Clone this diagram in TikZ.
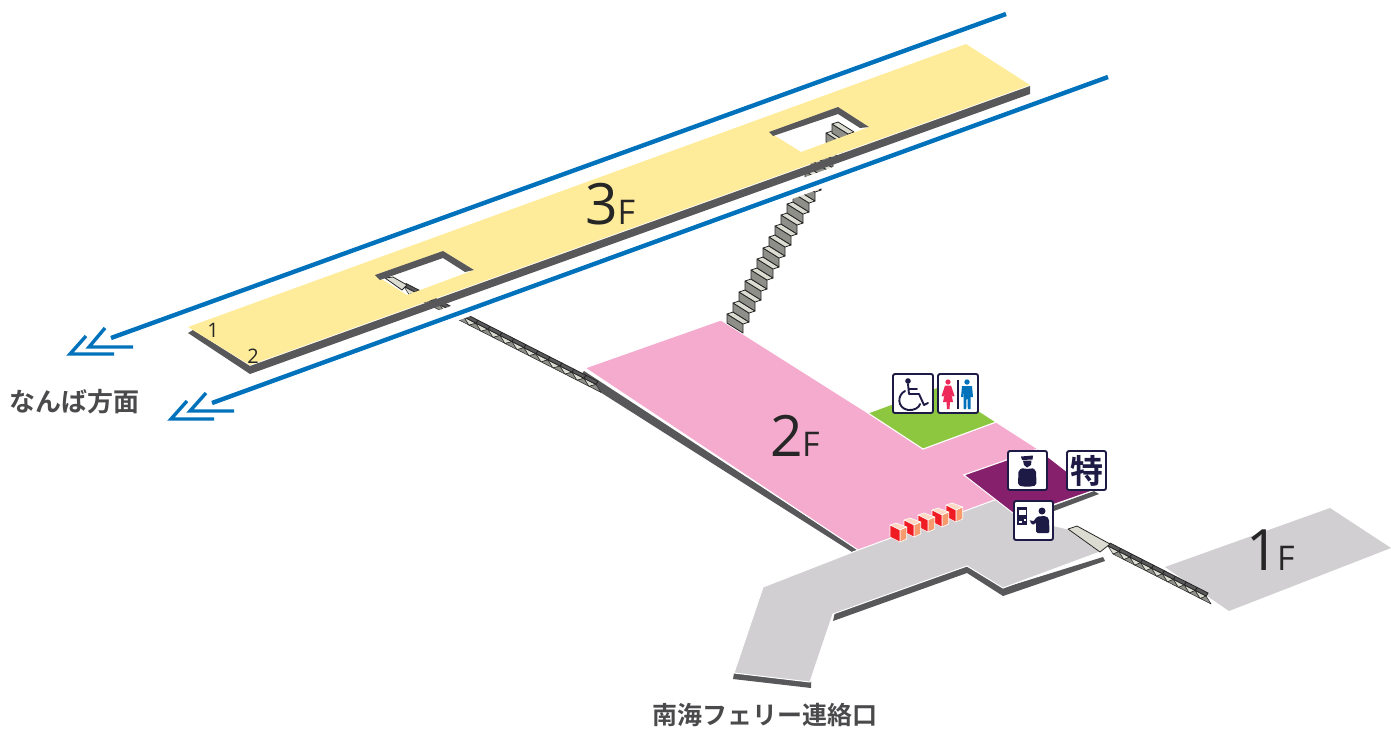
\documentclass[tikz,border=0pt]{standalone}
\usepackage{fontspec}
\setmainfont{Open Sans}
\newfontfamily\cjk{Noto Sans CJK JP Bold}
\newfontfamily\cjkplain{Noto Sans CJK JP Bold}
\definecolor{yel}{HTML}{FEEC9A}
\definecolor{pnk}{HTML}{F5ABCE}
\definecolor{grn}{HTML}{8DC63F}
\definecolor{pur}{HTML}{86206C}
\definecolor{gry}{HTML}{D1CFD1}
\definecolor{drk}{HTML}{58585A}
\definecolor{blu}{HTML}{0072BC}
\definecolor{nav}{HTML}{1D1A45}
\definecolor{riser}{HTML}{8F8F89}
\definecolor{tread}{HTML}{DCDCD2}
\definecolor{txtg}{HTML}{4A4A4C}
\definecolor{gred}{HTML}{F01C24}
\definecolor{gsal}{HTML}{F79A6E}
\definecolor{gtop}{HTML}{FCD9C4}
\definecolor{wred}{HTML}{EE2A5B}
\tikzset{
  rail/.style={draw=blu,line width=4.4pt},
  chev/.style={draw=blu,line width=3.4pt,line join=miter},
  halo/.style={draw=white,line width=16pt},
  floorw/.style={draw=white,line width=1pt,line join=miter},
  band/.style={fill=drk},
  stairline/.style={draw=black!85,line width=.8pt,line join=round},
  iconbox/.style={draw=nav,fill=white,line width=1.9pt,rounded corners=2pt},
  big/.style={font=\fontsize{57}{57}\selectfont,text=black!85,anchor=base west,inner sep=0pt},
  sml/.style={font=\fontsize{34}{34}\selectfont,text=black!85,anchor=base west,inner sep=0pt},
  plat/.style={font=\fontsize{20}{20}\selectfont,text=black!85,anchor=base,inner sep=0pt},
  lbl/.style={text=txtg,anchor=west,inner sep=0pt},
  gatew/.style={draw=white,line width=.6pt,line join=round}
}
\newcommand{\shallow}[4]{% x y n step
  \foreach \i in {0,...,#3}{
    \begin{scope}[shift={({#1+#4*\i},{#2+#4*0.51*\i})}]
      \filldraw[stairline,line width=.5pt,fill=tread] (-2,3)--(#4-2,#4*.51+3)--(3,11)--cycle;
      \filldraw[stairline,line width=.5pt,fill=riser] (#4-2,#4*.51+3)--(3,11)--(3+#4,11+#4*.51)--cycle;
      \filldraw[stairline,fill=drk] (0,0)--(#4,#4*.51)--(#4-2,#4*.51+3)--(-2,3)--cycle;
    \end{scope}
  }
}
\newcommand{\bigstep}[2]{%
  \begin{scope}[shift={(#1,#2)}]
    \filldraw[stairline,fill=riser] (0,0)--(0,-9)--(16,1)--(16,10)--cycle;
    \filldraw[stairline,fill=tread] (0,-9)--(6,-11)--(22,-1)--(16,1)--cycle;
  \end{scope}
}
\begin{document}
\begin{tikzpicture}[x=1pt,y=-1pt]
\useasboundingbox (0,0) rectangle (1391,729);
% 1F floor
\fill[gry] (1165,567)--(1330,508)--(1391,548)--(1229,611)--cycle;
% 2F dark band + floor
\fill[band] (578,378)--(584,371)--(858,550)--(852,552)--cycle;
\filldraw[floorw,fill=pnk] (585,368)--(721,320)--(868,413)--(923,449)--(996,422)--(1038,449)--(964,475)--(1010,505)--(858,550)--cycle;
% green
\filldraw[floorw,fill=grn] (868,413)--(941,386)--(996,422)--(923,449)--cycle;
% dark below purple
\fill[band] (1050,507)--(1094,491)--(1099,494)--(1054,511)--cycle;
% gray ground
\fill[band] (1103,557)--(1105,561)--(1003,596)--(967,573)--(833,621)--(835,612)--(967,566)--(1003,588)--cycle;
\fill[band] (734,673)--(811,681)--(811,688)--(733,679)--cycle;
\filldraw[floorw,fill=gry] (763,587)--(858,550)--(1000,498)--(1030,520)--(1068,529)--(1100,552)--(1003,588)--(967,566)--(833,614)--(810,682)--(734,673)--cycle;
% purple
\filldraw[floorw,fill=pur] (964,475)--(1038,449)--(1092,491)--(1018,517)--cycle;
% stairs big
\foreach \i in {0,...,15}{\bigstep{727+6*\i}{323-11*\i}}
\bigstep{826}{142}
\bigstep{832}{133}
% shallow stairs left
\shallow{406}{283.5}{15}{12}
\filldraw[stairline,fill=tread] (385,278)--(393,277)--(407,285)--(402,290)--cycle;
% shallow stairs right
\shallow{1110}{543}{8}{10.9}
\filldraw[stairline,fill=tread] (1068,529)--(1077,526)--(1110,544)--(1100,552)--cycle;
% rails with halo
\coordinate (r1a) at (1006,14); \coordinate (r1b) at (111,338);
\coordinate (r2a) at (1108,77); \coordinate (r2b) at (212,403);
\draw[halo] (1108,75.5)--(212,401.5);
\draw[rail] (r1a)--(r1b);
\draw[rail] (r2a)--(r2b);
\draw[chev] (86,336)--(70,354)--(114,354);
\draw[chev] (105,328)--(89,347)--(133,347);
\draw[chev] (187,401)--(171,419)--(214,419);
\draw[chev] (206,393)--(190,411)--(234,411);
% 3F
\fill[band] (188,333)--(193,330)--(250,366)--(1030,86)--(1030,94)--(250,374)--cycle;
\fill[yel,even odd rule] (188,327)--(966,44)--(1030,85)--(250,365)--cycle
  (769,132)--(838,107)--(869,127)--(801,152)--cycle
  (375,275)--(443,251)--(474,270)--(407,295)--cycle;
\fill[band] (769,132)--(838,107)--(869,127)--(860,128)--(838,114)--(773,136)--cycle;
\fill[band] (375,275)--(443,251)--(474,270)--(465,272)--(443,258)--(380,280)--cycle;
% gates
\foreach \i in {4,3,2,1,0}{
  \begin{scope}[shift={({890+14*\i},{525-5*\i})}]
    \filldraw[gatew,fill=gtop] (0,0)--(6,-2)--(16.7,2)--(10,5)--cycle;
    \filldraw[gatew,fill=gsal] (10,5)--(16.7,2)--(16.7,14)--(10,17)--cycle;
    \filldraw[gatew,fill=gred] (0,0)--(10,5)--(10,17)--(0,12)--cycle;
  \end{scope}
}
% texts
\node[big] (t3) at (585,224) {3};
\node[sml] (t3f) at (617.5,224) {F};
\node[big] (t2) at (770,456) {2};
\node[sml] (t2f) at (802,456) {F};
\node[big] (t1) at (1246,570) {1};
\node[sml] (t1f) at (1277,570) {F};
\node[plat] (p1) at (213,337) {1};
\node[plat] (p2) at (253,363) {2};
\node[lbl,font=\cjk\fontsize{26}{26}\selectfont] (nanba) at (9,402) {なんば方面};
\node[lbl,font=\cjk\fontsize{25}{25}\selectfont] (ferry) at (652,715) {南海フェリー連絡口};
% wheelchair icon
\draw[iconbox] (893,374) rectangle (933,413);
\fill[nav] (908,381) circle (2.8);
\draw[nav,line width=1.9pt,line join=round,line cap=round] (908,384)--(909,394)--(919,394)--(924,405)--(928,403);
\draw[nav,line width=1.9pt,line cap=round] (909,389)--(917,389);
\draw[nav,line width=1.9pt,line cap=round] (905,391) .. controls (897,395) and (897,408) .. (908,410) .. controls (914,410.5) and (919,408) .. (920,404);
% toilet icon
\draw[iconbox] (938,374) rectangle (978,413);
\fill[wred] (948,382) circle (2.6);
\fill[wred] (945,385.5)--(951,385.5)--(954.5,396)--(952.5,396.5)--(951,392)--(953,402)--(950,402)--(949.5,409)--(947,409)--(946.5,402)--(943,402)--(945,392)--(943.5,396.5)--(941.5,396)--cycle;
\fill[nav] (957.3,380) rectangle (959,409);
\fill[blu] (967,382) circle (2.7);
\fill[blu] (962,386)--(972,386)--(973,397)--(971,397)--(970.5,390)--(970.5,409)--(967.8,409)--(967.5,399)--(966.5,399)--(966.2,409)--(963.5,409)--(963.5,390)--(963,397)--(961,397)--cycle;
% officer icon
\draw[iconbox] (1008,451) rectangle (1047,490);
\fill[nav] (1021,456.5)--(1033,455.5)--(1032.5,459.5)--(1022,460)--cycle;
\fill[nav] (1023,460.5)--(1031.5,460.5)--(1031,465)--(1027,467.5)--(1024,465)--cycle;
\fill[nav,rounded corners=2pt] (1018,485.5)--(1018.5,470)--(1024,467.5)--(1027.5,470)--(1031,467.5)--(1036,470)--(1036.5,485.5)--(1027,487)--cycle;
% tokusen icon
\draw[iconbox] (1067,451) rectangle (1106,490);
\node[font=\cjkplain\fontsize{33}{33}\selectfont,text=nav,inner sep=0pt] (toku) at (1086.5,470.5) {特};
% ticket icon
\draw[iconbox] (1014,501) rectangle (1053,540);
\fill[nav] (1017,507) rectangle (1027,524.5);
\fill[white] (1018.5,510) rectangle (1025.5,515);
\fill[white] (1018.5,521) rectangle (1021.5,523);
\fill[white] (1024,519) rectangle (1025.5,520.5);
\fill[nav] (1042,511) circle (3.5);
\fill[nav,rounded corners=1.5pt] (1036,533)--(1036,522)--(1033,525.5)--(1029.5,521)--(1030.5,519.5)--(1033,522)--(1037,516.5)--(1046,516)--(1049,519)--(1049.5,533)--cycle;
\end{tikzpicture}
\end{document}
